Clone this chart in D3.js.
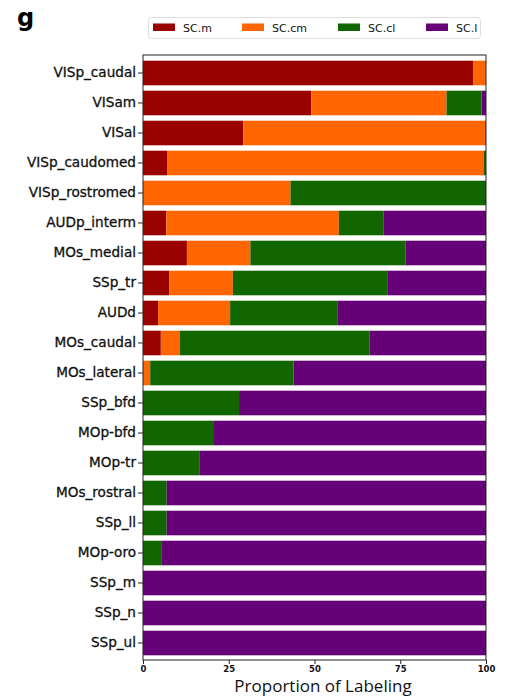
<!DOCTYPE html>
<html>
<head>
<meta charset="utf-8">
<script src="https://cdn.jsdelivr.net/npm/d3@7"></script>
<style>
  body { margin: 0; background: #fff; }
  svg { display: block; }
</style>
</head>
<body>
<svg id="chart" width="507" height="697"></svg>
<script>
// Cortical regions, top to bottom
const categories = ["VISp_caudal", "VISam", "VISal", "VISp_caudomed", "VISp_rostromed",
  "AUDp_interm", "MOs_medial", "SSp_tr", "AUDd", "MOs_caudal", "MOs_lateral",
  "SSp_bfd", "MOp-bfd", "MOp-tr", "MOs_rostral", "SSp_ll", "MOp-oro",
  "SSp_m", "SSp_n", "SSp_ul"];

// Percent of labeling in each SC subdivision
const scM  = [96.2, 49.1, 29.2, 7.0, 0, 6.8, 12.8, 7.6, 4.4, 5.2, 0, 0, 0, 0, 0, 0, 0, 0, 0, 0];
const scCM = [3.8, 39.4, 70.6, 92.4, 43.0, 50.3, 18.5, 18.6, 21.0, 5.5, 2.1, 0, 0, 0, 0, 0, 0, 0, 0, 0];
const scCL = [0, 10.2, 0.2, 0.6, 57.0, 13.1, 45.3, 45.0, 31.4, 55.4, 41.8, 28.0, 20.7, 16.4, 6.9, 6.9, 5.5, 0, 0, 0];
const scL  = [0, 1.3, 0, 0, 0, 29.8, 23.4, 28.8, 43.2, 33.9, 56.1, 72.0, 79.3, 83.6, 93.1, 93.1, 94.5, 100, 100, 100];

const seriesNames = ["SC.m", "SC.cm", "SC.cl", "SC.l"];
const seriesColors = ["#990000", "#ff6600", "#116600", "#660077"];
const xTicks = [0, 25, 50, 75, 100];

const rows = categories.map((c, i) => ({ region: c, "SC.m": scM[i], "SC.cm": scCM[i], "SC.cl": scCL[i], "SC.l": scL[i] }));

const svg = d3.select("#chart");
const plot = { left: 143, right: 486, top: 55, bottom: 660 };

const x = d3.scaleLinear().domain([0, 100]).range([plot.left, plot.right]);
const y = d3.scaleBand().domain(categories).range([plot.top + 3, plot.bottom - 2])
  .paddingInner(0.18).paddingOuter(0.09);
const color = d3.scaleOrdinal().domain(seriesNames).range(seriesColors);

const stacked = d3.stack().keys(seriesNames)(rows);

// Stacked horizontal bars
svg.append("g").selectAll("g").data(stacked).join("g")
  .attr("fill", d => color(d.key))
  .selectAll("rect").data(d => d).join("rect")
  .attr("x", d => x(d[0]))
  .attr("width", d => Math.max(0, x(d[1]) - x(d[0])))
  .attr("y", d => y(d.data.region))
  .attr("height", y.bandwidth());

// Frame
svg.append("rect")
  .attr("x", plot.left).attr("y", plot.top)
  .attr("width", plot.right - plot.left).attr("height", plot.bottom - plot.top)
  .attr("fill", "none").attr("stroke", "#222").attr("stroke-width", 1);

// Y axis
const yAxis = svg.append("g").attr("transform", `translate(${plot.left},0)`)
  .call(d3.axisLeft(y).tickSize(5).tickPadding(2));
yAxis.select(".domain").remove();
yAxis.selectAll("text")
  .attr("font-family", "DejaVu Sans, sans-serif").attr("font-size", 13.6)
  .attr("fill", "#111").attr("stroke", "#111").attr("stroke-width", 0.3);
yAxis.selectAll("line").attr("stroke", "#222");

// X axis
const xAxis = svg.append("g").attr("transform", `translate(0,${plot.bottom})`)
  .call(d3.axisBottom(x).tickValues(xTicks).tickSize(4).tickPadding(2));
xAxis.select(".domain").remove();
xAxis.selectAll("text")
  .attr("font-family", "DejaVu Sans, sans-serif").attr("font-size", 8.5)
  .attr("font-weight", "bold").attr("fill", "#111");
xAxis.selectAll("line").attr("stroke", "#222");

svg.append("text")
  .attr("x", 323).attr("y", 692)
  .attr("text-anchor", "middle")
  .attr("font-family", "Open Sans, sans-serif").attr("font-size", 17)
  .attr("fill", "#111")
  .text("Proportion of Labeling");

// Panel letter
svg.append("text")
  .attr("x", 17).attr("y", 26)
  .attr("font-family", "DejaVu Sans, sans-serif").attr("font-size", 24)
  .attr("font-weight", "bold").attr("fill", "#000")
  .text("g");

// Legend
const legend = svg.append("g");
legend.append("rect")
  .attr("x", 148.5).attr("y", 17.5).attr("width", 332).attr("height", 21)
  .attr("rx", 3).attr("fill", "#fff").attr("stroke", "#ddd");
const legendX = [153, 242, 338, 426];
const items = legend.selectAll("g.item").data(seriesNames).join("g")
  .attr("class", "item")
  .attr("transform", (d, i) => `translate(${legendX[i]},0)`);
items.append("rect")
  .attr("x", 0).attr("y", 23.5).attr("width", 22).attr("height", 7.5)
  .attr("fill", d => color(d));
items.append("text")
  .attr("x", 30).attr("y", 31.5)
  .attr("font-family", "DejaVu Sans, sans-serif").attr("font-size", 11)
  .attr("fill", "#111")
  .text(d => d);
</script>
</body>
</html>
